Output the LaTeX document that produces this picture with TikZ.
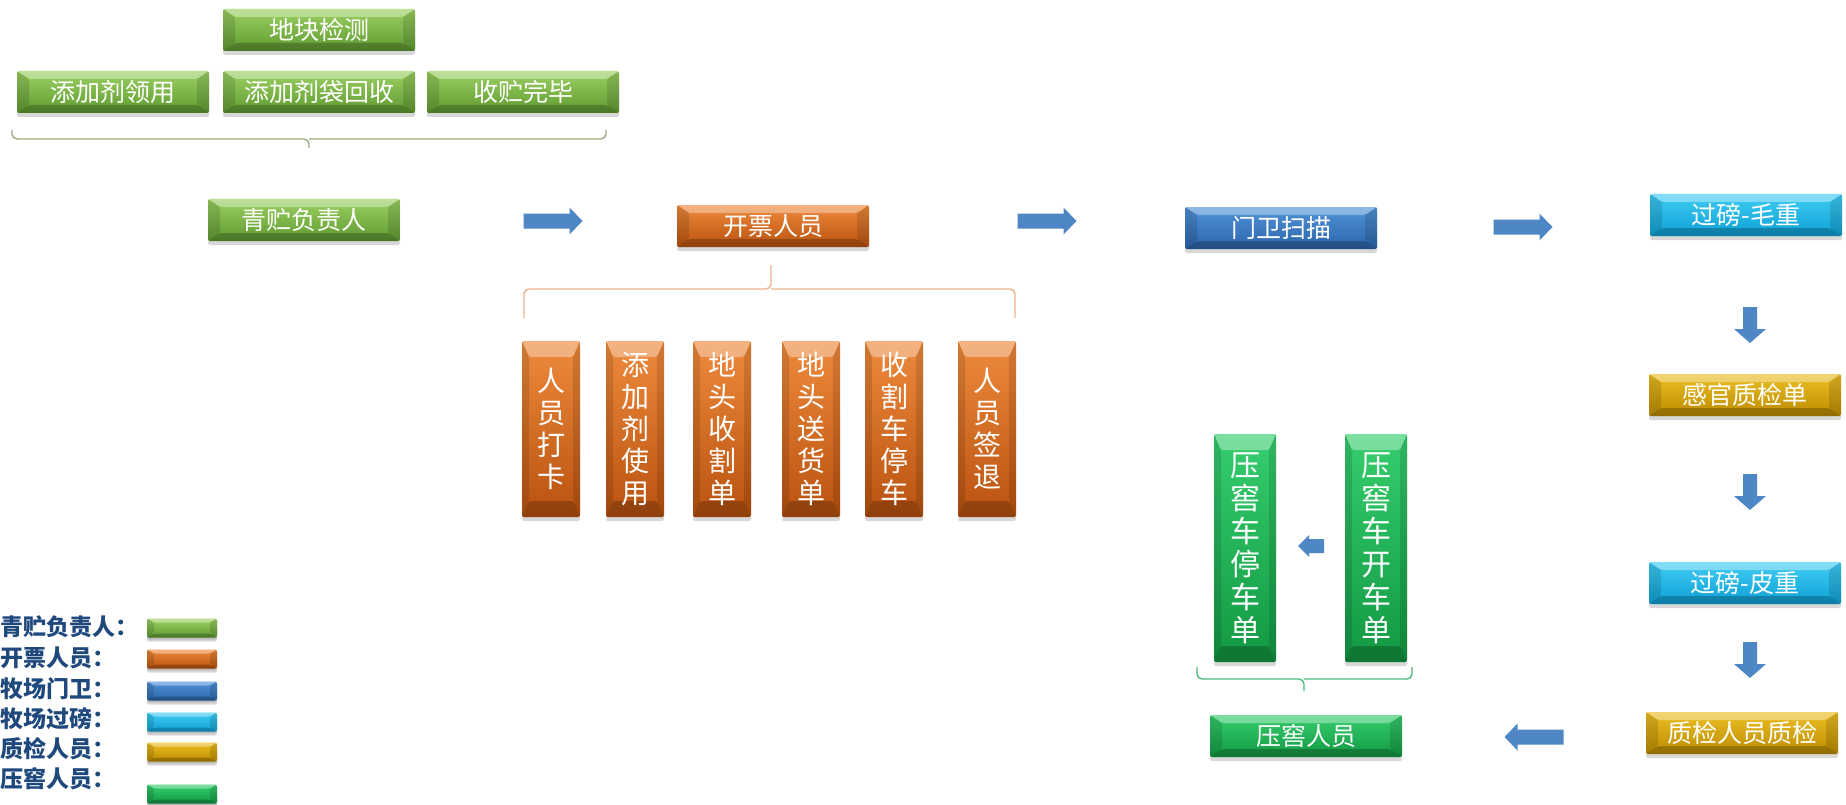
\documentclass[tikz,border=0pt]{standalone}
\usepackage{fontspec}
\newfontfamily\cjk{Noto Sans CJK SC}
\usetikzlibrary{shadows,calc}
\definecolor{arrowblue}{HTML}{4F86C6}
\definecolor{gAt}{HTML}{9CD062}\definecolor{gAb}{HTML}{5E9A30}
\definecolor{oRt}{HTML}{EE8A3C}\definecolor{oRb}{HTML}{B9520F}
\definecolor{bLt}{HTML}{5093D9}\definecolor{bLb}{HTML}{2B64A8}
\definecolor{cYt}{HTML}{40CDF5}\definecolor{cYb}{HTML}{0EA0D4}
\definecolor{yEt}{HTML}{ECBF24}\definecolor{yEb}{HTML}{BC8B00}
\definecolor{gBt}{HTML}{36CE6E}\definecolor{gBb}{HTML}{129842}
\definecolor{braceA}{HTML}{9AAE7E}
\definecolor{braceB}{HTML}{EDB58C}
\definecolor{braceC}{HTML}{4DBB7A}
\definecolor{legendtext}{RGB}{31,73,125}
\newcommand{\bevelfaces}[2]{%
    \fill[white,opacity=.35] (path picture bounding box.north west) -- (path picture bounding box.north east)
      -- ($(path picture bounding box.north east)+(-#1,#2)$) -- ($(path picture bounding box.north west)+(#1,#2)$) -- cycle;
    \fill[black,opacity=.22] (path picture bounding box.south west) -- (path picture bounding box.south east)
      -- ($(path picture bounding box.south east)+(-#1,-#2)$) -- ($(path picture bounding box.south west)+(#1,-#2)$) -- cycle;
    \fill[black,opacity=.12] (path picture bounding box.north west) -- ($(path picture bounding box.north west)+(#1,#2)$)
      -- ($(path picture bounding box.south west)+(#1,-#2)$) -- (path picture bounding box.south west) -- cycle;
    \fill[black,opacity=.12] (path picture bounding box.north east) -- ($(path picture bounding box.north east)+(-#1,#2)$)
      -- ($(path picture bounding box.south east)+(-#1,-#2)$) -- (path picture bounding box.south east) -- cycle;}
\newcommand{\barrow}[6]{%
  \begin{scope}[shift={(#1)},rotate=#2]
    \fill[arrowblue] (-#3,-#4) -- (#3-#6,-#4) -- (#3-#6,-#5) -- (#3,0)
      -- (#3-#6,#5) -- (#3-#6,#4) -- (-#3,#4) -- cycle;
  \end{scope}}
\tikzset{
  bevelH/.style={path picture={\bevelfaces{12}{8}}},
  bevelV/.style={path picture={\bevelfaces{7}{16}}},
  bevelL/.style={path picture={\bevelfaces{7}{4}}},
  basebox/.style={rounded corners=2pt, inner sep=0pt, text=white,
    drop shadow={opacity=.3,shadow xshift=0pt,shadow yshift=-4pt}},
  hbox/.style={basebox, minimum width=192pt, minimum height=42pt,
    font=\cjk\fontsize{25}{25}\selectfont, bevelH},
  vboxo/.style={basebox, minimum width=58pt, minimum height=176pt, align=center,
    font=\cjk\fontsize{28}{32}\selectfont, bevelV},
  vboxg/.style={basebox, minimum width=62pt, minimum height=228pt, align=center,
    font=\cjk\fontsize{30}{33}\selectfont, bevelV},
  legbar/.style={basebox, minimum width=70pt, minimum height=19pt, bevelL,
    drop shadow={opacity=.3,shadow xshift=0pt,shadow yshift=-2pt}},
  legtext/.style={anchor=west, inner sep=0pt, text=legendtext,
    font=\cjk\bfseries\fontsize{23}{23}\selectfont},
  cgA/.style={top color=gAt, bottom color=gAb},
  coR/.style={top color=oRt, bottom color=oRb},
  cbL/.style={top color=bLt, bottom color=bLb},
  ccY/.style={top color=cYt, bottom color=cYb},
  cyE/.style={top color=yEt, bottom color=yEb},
  cgB/.style={top color=gBt, bottom color=gBb},
  bracepath/.style={line width=1.4pt, rounded corners=5pt},
}
\begin{document}
\begin{tikzpicture}[x=1pt,y=-1pt]
\fill[white] (0,0) rectangle (1846,805);
\useasboundingbox (0,0) rectangle (1846,805);

% top group
\node[hbox,cgA] (dkjc) at (319,30) {地块检测};
\node[hbox,cgA] (tjjly) at (113,92) {添加剂领用};
\node[hbox,cgA] (tjjdhs) at (319,92) {添加剂袋回收};
\node[hbox,cgA] (szwb) at (523,92) {收贮完毕};
\coordinate (tbL) at (12,130);
\coordinate (tbR) at (606,130);
\coordinate (tbTip) at (309,148);
\draw[bracepath,braceA] (tbL) |- ($(tbTip)+(0,-9)$) -- (tbTip);
\draw[bracepath,braceA] (tbR) |- ($(tbTip)+(0,-9)$);

% main row
\node[hbox,cgA] (qzfzr) at (304,220) {青贮负责人};
\node[hbox,coR] (kpry) at (773,226) {开票人员};
\node[hbox,cbL] (mwsm) at (1281,228) {门卫扫描};
\node[hbox,ccY] (gbmz) at (1746,215) {过磅-毛重};
\coordinate (a1) at (553,221);
\coordinate (a2) at (1047,221);
\coordinate (a3) at (1523,227);
\barrow{a1}{0}{29.5}{7.5}{13.5}{13}
\barrow{a2}{0}{29.5}{7.5}{13.5}{13}
\barrow{a3}{0}{29.5}{7.5}{13.5}{13}

% orange brace and verticals
\coordinate (obL) at (524,318);
\coordinate (obR) at (1015,318);
\coordinate (obTip) at (771,265);
\draw[bracepath,braceB] (obL) |- ($(obTip)+(0,24)$) -- (obTip);
\draw[bracepath,braceB] (obR) |- ($(obTip)+(0,24)$);
\node[vboxo,coR] (rydk) at (551,429) {人\\员\\打\\卡};
\node[vboxo,coR] (tjjsy) at (635,429) {添\\加\\剂\\使\\用};
\node[vboxo,coR] (dtsgd) at (722,429) {地\\头\\收\\割\\单};
\node[vboxo,coR] (dtshd) at (811,429) {地\\头\\送\\货\\单};
\node[vboxo,coR] (sgctc) at (894,429) {收\\割\\车\\停\\车};
\node[vboxo,coR] (ryqt) at (987,429) {人\\员\\签\\退};

% right column
\node[hbox,cyE] (ggzjd) at (1745,395) {感官质检单};
\node[hbox,ccY] (gbpz) at (1745,583) {过磅-皮重};
\node[hbox,cyE] (zjryzj) at (1742,733) {质检人员质检};
\coordinate (d1) at (1750,325);
\coordinate (d2) at (1750,492);
\coordinate (d3) at (1750,660);
\barrow{d1}{-90}{18}{7}{16}{14}
\barrow{d2}{-90}{18}{7}{16}{14}
\barrow{d3}{-90}{18}{7}{16}{14}
\coordinate (l1) at (1534,737);
\barrow{l1}{180}{29.5}{7.5}{13.5}{13}

% silage group
\node[hbox,cgB] (yjry) at (1306,736) {压窖人员};
\node[vboxg,cgB] (yjctc) at (1245,548) {压\\窖\\车\\停\\车\\单};
\node[vboxg,cgB] (yjckc) at (1376,548) {压\\窖\\车\\开\\车\\单};
\coordinate (l2) at (1311,546);
\barrow{l2}{180}{13}{7}{11}{11}
\coordinate (gbL) at (1197,667);
\coordinate (gbR) at (1412,667);
\coordinate (gbTip) at (1304,691);
\draw[bracepath,braceC] (gbL) |- ($(gbTip)+(0,-12)$) -- (gbTip);
\draw[bracepath,braceC] (gbR) |- ($(gbTip)+(0,-12)$);

% legend
\node[legtext] (lt1) at (0,627) {青贮负责人：};
\node[legtext] (lt2) at (0,658) {开票人员：};
\node[legtext] (lt3) at (0,689) {牧场门卫：};
\node[legtext] (lt4) at (0,719) {牧场过磅：};
\node[legtext] (lt5) at (0,749) {质检人员：};
\node[legtext] (lt6) at (0,779) {压窖人员：};
\node[legbar,cgA] (lb1) at (182,628) {};
\node[legbar,coR] (lb2) at (182,659) {};
\node[legbar,cbL] (lb3) at (182,691) {};
\node[legbar,ccY] (lb4) at (182,722) {};
\node[legbar,cyE] (lb5) at (182,752) {};
\node[legbar,cgB] (lb6) at (182,794) {};
\end{tikzpicture}
\end{document}
